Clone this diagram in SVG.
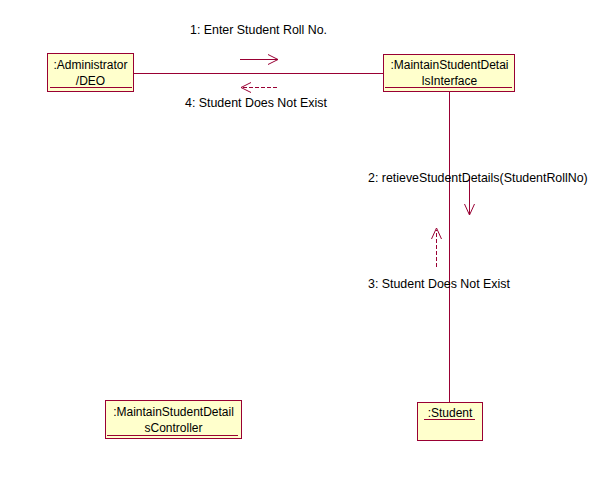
<svg xmlns="http://www.w3.org/2000/svg" width="604" height="485" viewBox="0 0 604 485">
<style>
.box{fill:#ffffcc;stroke:#990033;stroke-width:1}
.ul{stroke:#990033;stroke-width:1}
.ln{stroke:#990033;stroke-width:1;fill:none}
.dash{stroke-dasharray:4 2}
text{font-family:"Liberation Sans",Arial,sans-serif;font-size:12px;fill:#000}
.m{font-size:12.4px}
.c{text-anchor:middle}
</style>
<rect width="604" height="485" fill="#ffffff"/>
<g id="connectors">
<line class="ln" x1="134" y1="73.5" x2="383" y2="73.5"/>
<line class="ln" x1="449.5" y1="92" x2="449.5" y2="402"/>
</g>
<g id="msg1">
<line class="ln" x1="240" y1="59.5" x2="278" y2="59.5"/>
<polyline class="ln" points="268,54.5 278,59.5 268,64.5"/>
<text class="m" x="190" y="34">1: Enter Student Roll No.</text>
</g>
<g id="msg4">
<line class="ln dash" x1="243" y1="87.5" x2="279" y2="87.5"/>
<polyline class="ln" points="251,82.5 241,87.5 251,92.5"/>
<text class="m" x="185" y="107">4: Student Does Not Exist</text>
</g>
<g id="msg2">
<line class="ln" x1="469.5" y1="176" x2="469.5" y2="215"/>
<polyline class="ln" points="464.5,204 469.5,215 474.5,204"/>
<text class="m" x="368" y="182">2: retieveStudentDetails(StudentRollNo)</text>
</g>
<g id="msg3">
<line class="ln dash" x1="436.5" y1="267" x2="436.5" y2="230"/>
<polyline class="ln" points="431.5,239 436.5,228 441.5,239"/>
<text class="m" x="368" y="288">3: Student Does Not Exist</text>
</g>
<g id="administrator">
<rect class="box" x="47.5" y="53.5" width="86" height="38"/>
<text class="c" x="90.5" y="69">:Administrator</text>
<text class="c" x="90.5" y="85">/DEO</text>
<line class="ul" x1="50" y1="87.5" x2="132" y2="87.5"/>
</g>
<g id="interface">
<rect class="box" x="383.5" y="54.5" width="131" height="37"/>
<text class="c" x="449.5" y="69">:MaintainStudentDetai</text>
<text class="c" x="449.5" y="85">lsInterface</text>
<line class="ul" x1="385" y1="87.5" x2="512" y2="87.5"/>
</g>
<g id="controller">
<rect class="box" x="105.5" y="400.5" width="136" height="38"/>
<text class="c" x="173.5" y="416">:MaintainStudentDetail</text>
<text class="c" x="173.5" y="432">sController</text>
<line class="ul" x1="107" y1="435.5" x2="238" y2="435.5"/>
</g>
<g id="student">
<rect class="box" x="417.5" y="402.5" width="65" height="38"/>
<text class="c" x="450" y="417">:Student</text>
<line class="ul" x1="424" y1="419.5" x2="475" y2="419.5"/>
</g>
</svg>
